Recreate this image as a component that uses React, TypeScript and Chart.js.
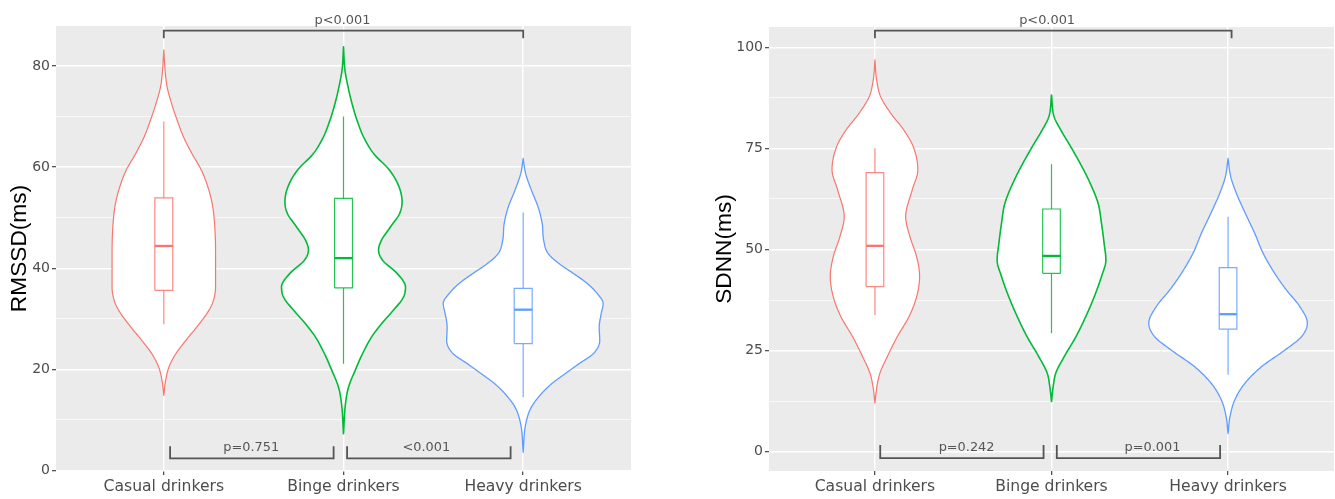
import React, { useEffect, useRef } from "react";
import { Chart, registerables } from "chart.js";

Chart.register(...registerables);

// ---------- shared ----------
const categories = ["Casual drinkers", "Binge drinkers", "Heavy drinkers"];
const categoryX = [1, 2, 3];
const groupColors = ["#F8766D", "#00BA38", "#619CFF"];
const boxColors = ["rgba(248,118,109,0.85)", "rgba(0,186,56,0.85)", "rgba(97,156,255,0.85)"];

// ---------- RMSSD panel ----------
const rmssdMajorTicks = [0, 20, 40, 60, 80];
const rmssdMinorTicks = [10, 30, 50, 70];

// violin outlines: value (y) and half-width in category units
const rmssdCasualY = [83.2, 79.2, 75.9, 72.6, 69.3, 66.0, 62.7, 59.4, 56.1, 52.8, 49.5, 42.9, 36.3, 33.0, 31.0, 28.4, 25.7, 23.1, 20.5, 17.8, 14.85];
const rmssdCasualW = [0, 0.007, 0.018, 0.043, 0.074, 0.109, 0.156, 0.209, 0.245, 0.269, 0.281, 0.288, 0.288, 0.27, 0.239, 0.184, 0.122, 0.067, 0.029, 0.01, 0];
const rmssdBingeY = [83.8, 79.2, 75.9, 72.6, 69.3, 66.0, 62.7, 59.4, 56.1, 53.1, 50.8, 48.2, 45.5, 43.6, 41.6, 38.9, 36.3, 34.3, 31.7, 29.0, 26.4, 23.1, 19.8, 16.5, 13.2, 7.3];
const rmssdBingeW = [0, 0.008, 0.025, 0.047, 0.075, 0.111, 0.167, 0.256, 0.309, 0.326, 0.312, 0.262, 0.211, 0.195, 0.217, 0.3, 0.345, 0.334, 0.278, 0.211, 0.156, 0.106, 0.065, 0.028, 0.011, 0];
const rmssdHeavyY = [61.7, 58.8, 55.4, 52.1, 48.8, 45.5, 42.9, 40.9, 39.0, 37.0, 35.0, 33.0, 31.0, 28.3, 25.7, 23.1, 21.1, 19.1, 17.2, 15.2, 12.5, 9.2, 3.6];
const rmssdHeavyW = [0, 0.013, 0.046, 0.083, 0.106, 0.114, 0.139, 0.2, 0.278, 0.356, 0.412, 0.445, 0.434, 0.423, 0.426, 0.39, 0.31, 0.232, 0.16, 0.102, 0.045, 0.014, 0];

// [lower whisker, Q1, median, Q3, upper whisker]
const rmssdBoxCasual = [28.9, 35.6, 44.4, 53.9, 69.0];
const rmssdBoxBinge = [21.1, 36.1, 42.0, 53.8, 70.0];
const rmssdBoxHeavy = [14.5, 25.1, 31.8, 36.0, 51.0];

const rmssdBracketFrom = [1, 1.035, 2.02];
const rmssdBracketTo = [3, 1.945, 2.93];
const rmssdBracketLevel = [87.0, 2.4, 2.4];
const rmssdBracketTip = [85.5, 4.8, 4.8];
const rmssdBracketLabels = ["p<0.001", "p=0.751", "<0.001"];
const rmssdLabelX = [1.994, 1.486, 2.461];

// ---------- SDNN panel ----------
const sdnnMajorTicks = [0, 25, 50, 75, 100];
const sdnnMinorTicks = [12.5, 37.5, 62.5, 87.5];

const sdnnCasualY = [96.9, 91.9, 87.8, 83.7, 79.5, 75.4, 69.7, 64.7, 58.1, 53.2, 48.2, 43.3, 38.3, 33.4, 28.4, 23.5, 19.4, 16.1, 12.0];
const sdnnCasualW = [0, 0.0096, 0.032, 0.089, 0.164, 0.217, 0.243, 0.211, 0.174, 0.198, 0.236, 0.253, 0.236, 0.193, 0.126, 0.07, 0.028, 0.011, 0];
const sdnnBingeY = [88.2, 82.8, 79.5, 75.4, 71.3, 67.2, 61.4, 56.5, 51.5, 47.4, 43.3, 38.3, 33.4, 28.4, 23.5, 19.4, 16.1, 12.4];
const sdnnBingeW = [0, 0.015, 0.053, 0.109, 0.162, 0.21, 0.264, 0.283, 0.298, 0.308, 0.283, 0.242, 0.194, 0.138, 0.072, 0.024, 0.0096, 0];
const sdnnHeavyY = [72.5, 68.0, 63.9, 58.9, 54.0, 49.1, 44.1, 40.0, 35.9, 31.8, 28.4, 25.1, 21.0, 16.9, 12.8, 8.7, 4.5];
const sdnnHeavyW = [0, 0.015, 0.047, 0.098, 0.151, 0.198, 0.264, 0.33, 0.406, 0.449, 0.415, 0.321, 0.189, 0.095, 0.038, 0.011, 0];

const sdnnBoxCasual = [33.8, 40.8, 50.9, 69.0, 75.0];
const sdnnBoxBinge = [29.3, 44.1, 48.4, 60.0, 71.1];
const sdnnBoxHeavy = [19.0, 30.3, 34.0, 45.5, 58.1];

const sdnnBracketFrom = [1, 1.03, 2.03];
const sdnnBracketTo = [3.02, 1.955, 2.955];
const sdnnBracketLevel = [104.1, -1.6, -1.6];
const sdnnBracketTip = [102.2, 1.65, 1.65];
const sdnnBracketLabels = ["p<0.001", "p=0.242", "p=0.001"];
const sdnnLabelX = [1.975, 1.519, 2.572];

// ---------- helpers ----------
const BOX_HALF = 0.05;
const violinLineWidths = [1.2, 1.6, 1.3];

// smooth (monotone cubic) outline through the read-off knots, used only for stroking
function smoothProfile(ys: number[], ws: number[]) {
  const idx = ys.map((_, i) => i).sort((a, b) => ys[a] - ys[b]);
  const X = idx.map((i) => ys[i]);
  const W = idx.map((i) => ws[i]);
  const n = X.length;
  const d: number[] = [];
  for (let i = 0; i < n - 1; i++) d.push((W[i + 1] - W[i]) / (X[i + 1] - X[i]));
  const m: number[] = new Array(n).fill(0);
  m[0] = d[0];
  m[n - 1] = d[n - 2];
  for (let i = 1; i < n - 1; i++) m[i] = d[i - 1] * d[i] <= 0 ? 0 : (d[i - 1] + d[i]) / 2;
  for (let i = 0; i < n - 1; i++) {
    if (d[i] === 0) {
      m[i] = 0;
      m[i + 1] = 0;
    } else {
      const a = m[i] / d[i];
      const b = m[i + 1] / d[i];
      const s = a * a + b * b;
      if (s > 9) {
        const t = 3 / Math.sqrt(s);
        m[i] = t * a * d[i];
        m[i + 1] = t * b * d[i];
      }
    }
  }
  return (y: number) => {
    let k = 0;
    while (k < n - 2 && y > X[k + 1]) k++;
    const h = X[k + 1] - X[k];
    const t = Math.min(1, Math.max(0, (y - X[k]) / h));
    const t2 = t * t;
    const t3 = t2 * t;
    const v = (2 * t3 - 3 * t2 + 1) * W[k] + (t3 - 2 * t2 + t) * h * m[k] + (-2 * t3 + 3 * t2) * W[k + 1] + (t3 - t2) * h * m[k + 1];
    return Math.max(0, v);
  };
}

function buildDatasets(boxes: number[][], bFrom: number[], bTo: number[], bLevel: number[], bTip: number[]) {
  const ds: any[] = [];
  const base = { showLine: true, pointRadius: 0, pointHoverRadius: 0, clip: false as any, tension: 0 };
  categoryX.forEach((pos, g) => {
    const [lo, q1, med, q3, hi] = boxes[g];
    ds.push({
      ...base,
      data: [{ x: pos, y: lo }, { x: pos, y: hi }],
      borderColor: boxColors[g],
      borderWidth: 1.2,
      fill: false,
      order: 20 + g,
    });
    ds.push({
      ...base,
      data: [
        { x: pos - BOX_HALF, y: q1 },
        { x: pos - BOX_HALF, y: q3 },
        { x: pos + BOX_HALF, y: q3 },
        { x: pos + BOX_HALF, y: q1 },
        { x: pos - BOX_HALF, y: q1 },
      ],
      borderColor: boxColors[g],
      borderWidth: 1.2,
      backgroundColor: "#FFFFFF",
      fill: "shape",
      order: 10 + g,
    });
    ds.push({
      ...base,
      data: [{ x: pos - BOX_HALF, y: med }, { x: pos + BOX_HALF, y: med }],
      borderColor: groupColors[g],
      borderWidth: 2.3,
      fill: false,
      order: 5 + g,
    });
  });
  bFrom.forEach((f, i) => {
    ds.push({
      ...base,
      data: [
        { x: f, y: bTip[i] },
        { x: f, y: bLevel[i] },
        { x: bTo[i], y: bLevel[i] },
        { x: bTo[i], y: bTip[i] },
      ],
      borderColor: "#555555",
      borderWidth: 1.8,
      fill: false,
      order: 1,
    });
  });
  return ds;
}

type PanelProps = {
  left: number;
  width: number;
  padLeft: number;
  padTop: number;
  padRight: number;
  yWidth: number;
  yMin: number;
  yMax: number;
  majors: number[];
  minors: number[];
  title: string;
  violinY: number[][];
  violinW: number[][];
  boxes: number[][];
  bFrom: number[];
  bTo: number[];
  bLevel: number[];
  bTip: number[];
  bLabels: string[];
  labelX: number[];
};

function Panel(p: PanelProps) {
  const ref = useRef<HTMLCanvasElement | null>(null);
  useEffect(() => {
    if (!ref.current) return;
    const allTicks = [...p.majors, ...p.minors].sort((a, b) => a - b);
    const isMajor = (v: number) => p.majors.some((m) => Math.abs(m - v) < 1e-9);

    const bgPlugin = {
      id: "ggBackground",
      beforeDraw(chart: any) {
        const { ctx, chartArea } = chart;
        ctx.save();
        ctx.fillStyle = "#FFFFFF";
        ctx.fillRect(0, 0, chart.width, chart.height);
        ctx.fillStyle = "#EBEBEB";
        ctx.fillRect(chartArea.left, chartArea.top, chartArea.right - chartArea.left, chartArea.bottom - chartArea.top);
        ctx.restore();
      },
    };
    const violinPlugin = {
      id: "violins",
      beforeDatasetsDraw(chart: any) {
        const { ctx } = chart;
        const xs = chart.scales.x;
        const ys = chart.scales.y;
        categoryX.forEach((pos, g) => {
          const Y = p.violinY[g];
          const f = smoothProfile(Y, p.violinW[g]);
          const yMax = Math.max(...Y);
          const yMin = Math.min(...Y);
          const steps = 260;
          const samples: number[] = [];
          for (let s = 0; s <= steps; s++) samples.push(yMax - ((yMax - yMin) * s) / steps);
          ctx.save();
          ctx.beginPath();
          samples.forEach((y, i) => {
            const px = xs.getPixelForValue(pos - f(y));
            const py = ys.getPixelForValue(y);
            if (i === 0) ctx.moveTo(px, py);
            else ctx.lineTo(px, py);
          });
          for (let i = samples.length - 1; i >= 0; i--) {
            const y = samples[i];
            ctx.lineTo(xs.getPixelForValue(pos + f(y)), ys.getPixelForValue(y));
          }
          ctx.closePath();
          ctx.fillStyle = "#FFFFFF";
          ctx.fill();
          ctx.strokeStyle = groupColors[g];
          ctx.lineWidth = violinLineWidths[g];
          ctx.lineJoin = "round";
          ctx.stroke();
          ctx.restore();
        });
      },
    };
    const labelPlugin = {
      id: "bracketLabels",
      afterDraw(chart: any) {
        const { ctx } = chart;
        const xs = chart.scales.x;
        const ys = chart.scales.y;
        ctx.save();
        ctx.font = '12.9px "DejaVu Sans"';
        ctx.fillStyle = "#555555";
        ctx.textAlign = "center";
        ctx.textBaseline = "alphabetic";
        p.bLabels.forEach((t, i) => {
          ctx.fillText(t, xs.getPixelForValue(p.labelX[i]), ys.getPixelForValue(p.bLevel[i]) - 7);
        });
        ctx.restore();
      },
    };

    const chart = new Chart(ref.current, {
      type: "line",
      data: {
        datasets: buildDatasets(p.boxes, p.bFrom, p.bTo, p.bLevel, p.bTip),
      },
      options: {
        animation: false,
        responsive: false,
        events: [],
        layout: { padding: { left: p.padLeft, top: p.padTop, right: p.padRight, bottom: 0 } },
        plugins: { legend: { display: false }, tooltip: { enabled: false } },
        scales: {
          x: {
            type: "linear",
            min: 0.4,
            max: 3.6,
            afterBuildTicks: (s: any) => {
              s.ticks = categoryX.map((v) => ({ value: v }));
            },
            afterFit: (s: any) => {
              s.height = 28;
            },
            grid: { color: "#FFFFFF", lineWidth: 1.4, tickColor: "#333333", tickLength: 4, tickWidth: 1.1 },
            border: { display: false },
            ticks: {
              autoSkip: false,
              maxRotation: 0,
              padding: 3,
              color: "#4D4D4D",
              font: { family: "DejaVu Sans", size: 15.6 },
              callback: (v: any) => categories[Math.round(Number(v)) - 1] ?? "",
            },
          },
          y: {
            type: "linear",
            min: p.yMin,
            max: p.yMax,
            afterBuildTicks: (s: any) => {
              s.ticks = allTicks.map((v) => ({ value: v }));
            },
            afterFit: (s: any) => {
              s.width = p.yWidth;
            },
            grid: {
              color: "#FFFFFF",
              lineWidth: (c: any) => (c.tick && isMajor(c.tick.value) ? 1.4 : 0.7),
              tickColor: (c: any) => (c.tick && isMajor(c.tick.value) ? "#333333" : "rgba(0,0,0,0)"),
              tickLength: 4,
              tickWidth: 1.1,
            },
            border: { display: false },
            ticks: {
              autoSkip: false,
              padding: 2,
              color: "#4D4D4D",
              font: { family: "DejaVu Sans", size: 14 },
              callback: (v: any) => (isMajor(Number(v)) ? String(v) : ""),
            },
            title: {
              display: true,
              text: p.title,
              color: "#000000",
              font: { family: "Liberation Sans", size: 22.7 },
              padding: { top: 6, bottom: 0 },
            },
          },
        },
      } as any,
      plugins: [bgPlugin, violinPlugin, labelPlugin],
    });
    return () => chart.destroy();
  }, []);

  return (
    <div style={{ position: "absolute", left: p.left, top: 0, width: p.width, height: 499 }}>
      <canvas ref={ref} width={p.width} height={499} style={{ display: "block" }} />
    </div>
  );
}

export default function App() {
  return (
    <div style={{ position: "absolute", left: 0, top: 0, width: 1335, height: 499, background: "#FFFFFF", overflow: "hidden" }}>
      <Panel
        left={0}
        width={660}
        padLeft={0}
        padTop={26}
        padRight={29}
        yWidth={56}
        yMin={-0.1}
        yMax={87.9}
        majors={rmssdMajorTicks}
        minors={rmssdMinorTicks}
        title="RMSSD(ms)"
        violinY={[rmssdCasualY, rmssdBingeY, rmssdHeavyY]}
        violinW={[rmssdCasualW, rmssdBingeW, rmssdHeavyW]}
        boxes={[rmssdBoxCasual, rmssdBoxBinge, rmssdBoxHeavy]}
        bFrom={rmssdBracketFrom}
        bTo={rmssdBracketTo}
        bLevel={rmssdBracketLevel}
        bTip={rmssdBracketTip}
        bLabels={rmssdBracketLabels}
        labelX={rmssdLabelX}
      />
      <Panel
        left={660}
        width={675}
        padLeft={45}
        padTop={27}
        padRight={1}
        yWidth={64}
        yMin={-4.77}
        yMax={105.0}
        majors={sdnnMajorTicks}
        minors={sdnnMinorTicks}
        title="SDNN(ms)"
        violinY={[sdnnCasualY, sdnnBingeY, sdnnHeavyY]}
        violinW={[sdnnCasualW, sdnnBingeW, sdnnHeavyW]}
        boxes={[sdnnBoxCasual, sdnnBoxBinge, sdnnBoxHeavy]}
        bFrom={sdnnBracketFrom}
        bTo={sdnnBracketTo}
        bLevel={sdnnBracketLevel}
        bTip={sdnnBracketTip}
        bLabels={sdnnBracketLabels}
        labelX={sdnnLabelX}
      />
    </div>
  );
}
